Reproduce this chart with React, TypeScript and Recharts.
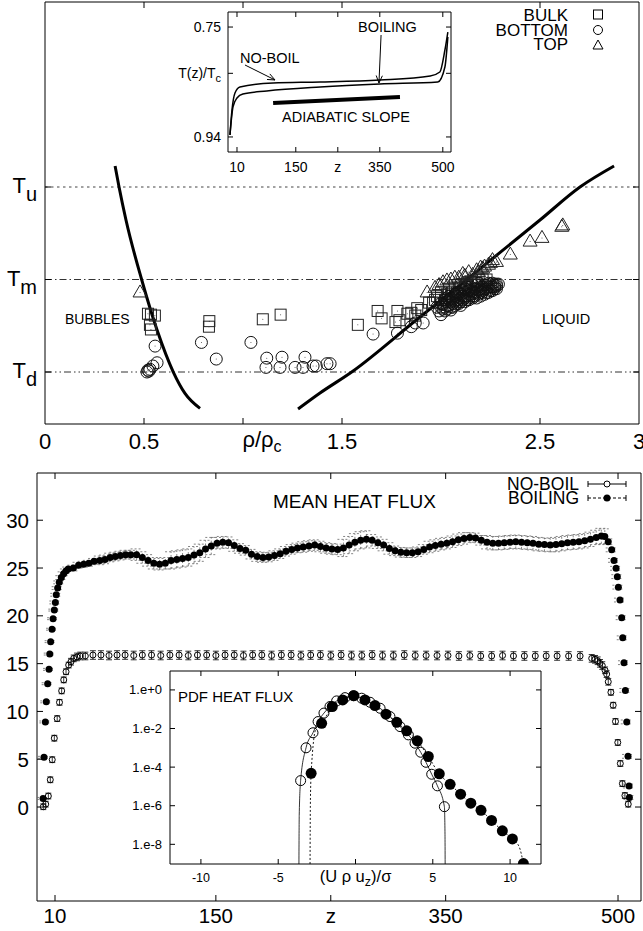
import React from 'react';
import { ComposedChart, Scatter, Line, XAxis, YAxis, ReferenceLine, ReferenceArea, ErrorBar } from 'recharts';

const FONT = '"Liberation Sans", Arial, Helvetica, sans-serif';

// ================= TOP PANEL: phase diagram =================
const rhoTicks = [0, 0.5, 1, 1.5, 2.5, 3];
const rhoTickLabels = ['0', '0.5', 'ρ/ρc', '1.5', '2.5', '3'];
const tempTicks = [0, 1, 2];
const tempTickLabels = ['Td', 'Tm', 'Tu'];

const gasBranch = [
  [0.354, 2.227], [0.374, 2.0], [0.409, 1.643], [0.488, 1.0], [0.566, 0.454],
  [0.648, 0.0], [0.707, -0.231], [0.783, -0.393],
];
const liquidBranch = [
  [1.278, -0.4], [1.389, -0.227], [1.549, 0.0], [1.875, 0.562], [2.13, 1.0],
  [2.5, 1.643], [2.702, 2.0], [2.874, 2.227],
];

const bulkPts = [
  [0.52, 0.63], [0.535, 0.62], [0.555, 0.61], [0.53, 0.51], [0.535, 0.46],
  [0.83, 0.55], [0.828, 0.49], [1.1, 0.57], [1.19, 0.62],
  [1.58, 0.51], [1.68, 0.66], [1.7, 0.58], [1.77, 0.54], [1.78, 0.66], [1.79, 0.56],
  [1.83, 0.63], [1.85, 0.64], [1.87, 0.61], [1.88, 0.69], [1.9, 0.67], [1.94, 0.75],
  [1.96, 0.75], [1.97, 0.78], [2.02, 0.78], [2.05, 0.82], [2.06, 0.76], [2.08, 0.86],
  [2.11, 0.88], [2.12, 0.82], [2.14, 0.9], [2.18, 0.96], [2.21, 1.0], [2.23, 1.0],
  [2.0, 0.8], [2.03, 0.84], [2.06, 0.86], [2.09, 0.9], [2.1, 0.94], [2.13, 0.96], [2.15, 0.98],
  [2.17, 0.94], [2.19, 1.0], [2.04, 0.9], [2.07, 0.94], [2.0, 0.86], [1.98, 0.82], [2.12, 0.92],
];
const bottomPts = [
  [0.556, 0.28], [0.566, 0.1], [0.545, 0.065], [0.52, 0.02], [0.515, 0.0], [0.525, 0.01], [0.53, 0.03],
  [0.79, 0.32], [0.865, 0.14], [1.04, 0.32], [1.12, 0.15], [1.116, 0.05], [1.197, 0.16], [1.187, 0.05],
  [1.263, 0.05], [1.313, 0.16], [1.303, 0.05], [1.354, 0.065], [1.37, 0.065], [1.424, 0.09], [1.44, 0.09],
  [1.657, 0.41], [1.78, 0.42], [1.85, 0.49], [1.87, 0.53], [1.91, 0.53], [2.0, 0.62], [2.05, 0.67],
  [1.98, 0.7], [2.0, 0.74], [2.01, 0.68], [2.02, 0.78], [2.03, 0.72], [2.04, 0.82], [2.05, 0.76],
  [2.06, 0.7], [2.07, 0.8], [2.08, 0.86], [2.08, 0.74], [2.09, 0.78], [2.1, 0.84], [2.1, 0.72],
  [2.11, 0.88], [2.12, 0.8], [2.12, 0.76], [2.13, 0.92], [2.14, 0.84], [2.14, 0.78], [2.15, 0.88],
  [2.16, 0.82], [2.16, 0.94], [2.17, 0.86], [2.18, 0.9], [2.18, 0.8], [2.19, 0.96], [2.2, 0.86],
  [2.2, 0.92], [2.21, 0.88], [2.22, 0.94], [2.22, 0.84], [2.23, 0.9], [2.24, 0.96], [2.24, 0.86],
  [2.25, 0.92], [2.26, 0.88], [2.27, 0.94], [2.28, 0.9], [2.27, 0.92], [2.28, 0.95],
  [1.99, 0.66], [2.0, 0.7], [2.01, 0.73], [2.02, 0.66], [2.02, 0.7], [2.03, 0.76], [2.03, 0.68],
  [2.04, 0.72], [2.04, 0.78], [2.05, 0.7], [2.05, 0.8], [2.06, 0.74], [2.06, 0.78], [2.07, 0.72],
  [2.07, 0.84], [2.08, 0.78], [2.08, 0.82], [2.09, 0.74], [2.09, 0.86], [2.1, 0.8], [2.1, 0.76],
  [2.11, 0.82], [2.11, 0.78], [2.12, 0.86], [2.12, 0.9], [2.13, 0.82], [2.13, 0.78], [2.14, 0.88],
  [2.14, 0.8], [2.15, 0.84], [2.15, 0.92], [2.16, 0.86], [2.16, 0.8], [2.17, 0.9], [2.17, 0.82],
  [2.18, 0.86], [2.18, 0.94], [2.19, 0.88], [2.19, 0.84], [2.2, 0.9], [2.2, 0.82], [2.21, 0.92],
  [2.21, 0.86], [2.22, 0.9], [2.23, 0.94], [2.23, 0.86], [2.24, 0.92], [2.25, 0.88], [2.25, 0.95],
  [2.26, 0.92], [2.26, 0.96], [2.27, 0.9], [2.28, 0.93], [2.29, 0.95],
];
const topPts = [
  [0.48, 0.86], [1.93, 0.86], [1.97, 0.91], [2.01, 0.97], [2.05, 1.0], [2.09, 1.02], [2.12, 1.04],
  [2.16, 1.05], [2.19, 1.08], [2.21, 1.12], [2.25, 1.18], [2.26, 1.21], [2.28, 1.19], [2.35, 1.27],
  [2.45, 1.41], [2.51, 1.45], [2.61, 1.57], [2.615, 1.585],
  [1.99, 0.94], [2.03, 0.99], [2.07, 1.02], [2.11, 1.06], [2.14, 1.08], [2.18, 1.1], [2.22, 1.14],
  [2.24, 1.16], [2.2, 1.13],
];

// inset: temperature profiles T(z)/Tc
const profileTicks = [10, 150, 250, 350, 500];
const profileTickLabels = ['10', '150', 'z', '350', '500'];
const tempInsetTicks = [0.75, 0.83, 0.94];
const tempInsetLabels = ['0.75', 'T(z)/Tc', '0.94'];
const noBoilProfile = [
  [-6.7, 0.9365], [-1.9, 0.8933], [5.2, 0.864], [17, 0.8536], [96, 0.8467], [208, 0.845],
  [350, 0.8415], [470, 0.8346], [493, 0.8277], [505, 0.7897], [512, 0.7586],
];
const boilProfile = [
  [-6.7, 0.9365], [0.5, 0.888], [10, 0.8726], [24, 0.8657], [81, 0.8605], [208, 0.8536],
  [350, 0.8484], [488, 0.845], [505, 0.819], [512, 0.767],
];
const adiabaticSlope = [[96, 0.8813], [398, 0.8709]];

// ================= BOTTOM PANEL: mean heat flux =================
const zTicks = [10, 150, 250, 350, 500];
const zTickLabels = ['10', '150', 'z', '350', '500'];
const fluxTicks = [0, 5, 10, 15, 20, 25, 30];

// [z, flux, error]
const noBoilFlux = [
  [-0.2, 0.03, 0.3], [1.9, 0.3, 0.3], [4.2, 1.15, 0.3], [5.9, 2.85, 0.3], [7.6, 4.95, 0.3], [9.4, 7.2, 0.3],
  [11.9, 9.25, 0.3], [13.9, 10.95, 0.3], [15.8, 12.15, 0.3], [17.6, 13.3, 0.3], [19.6, 14.15, 0.3],
  [21.9, 14.85, 0.3], [23.9, 15.2, 0.35], [26.3, 15.55, 0.35], [29.1, 15.7, 0.4], [32, 15.8, 0.4], [36.4, 15.8, 0.4],
  [43, 15.9, 0.45], [50, 15.9, 0.45], [57, 15.85, 0.45], [64, 15.9, 0.45], [71, 15.9, 0.45], [78.5, 15.85, 0.45],
  [86, 15.9, 0.45], [94, 15.9, 0.45], [102, 15.85, 0.45], [110, 15.9, 0.45], [118, 15.9, 0.45], [126, 15.85, 0.45],
  [134, 15.9, 0.45], [142, 15.9, 0.45], [150, 15.85, 0.45], [158, 15.9, 0.45], [166, 15.9, 0.45], [174, 15.85, 0.45],
  [182, 15.9, 0.45], [190, 15.9, 0.45], [198.5, 15.85, 0.45], [207, 15.9, 0.45], [215.5, 15.9, 0.45], [224, 15.85, 0.45],
  [232.5, 15.9, 0.45], [241, 15.9, 0.45], [250, 15.85, 0.45], [259, 15.9, 0.45], [268, 15.85, 0.45], [277, 15.85, 0.45],
  [286, 15.9, 0.45], [295, 15.85, 0.45], [304.5, 15.85, 0.45], [314, 15.9, 0.45], [323.5, 15.85, 0.45], [333, 15.85, 0.45],
  [342.5, 15.85, 0.45], [352, 15.85, 0.45], [361.5, 15.8, 0.45], [371, 15.85, 0.45], [380.5, 15.8, 0.45], [390, 15.8, 0.45],
  [399.5, 15.85, 0.45], [409, 15.8, 0.45], [418.5, 15.8, 0.45], [428, 15.8, 0.45], [437.5, 15.8, 0.45], [447, 15.8, 0.45],
  [457, 15.8, 0.45], [467, 15.8, 0.45], [477.1, 15.55, 0.4], [480, 15.45, 0.4], [482.3, 15.3, 0.4], [484.3, 15.03, 0.4],
  [486.3, 14.8, 0.4], [488.7, 14.3, 0.35], [490.1, 13.9, 0.35], [491.5, 13.1, 0.35], [493.8, 12.0, 0.3], [495.8, 10.65, 0.3],
  [497.8, 8.95, 0.3], [499.8, 6.75, 0.3], [502, 4.55, 0.3], [503.8, 2.45, 0.3], [506, 1.2, 0.3], [508.9, 0.3, 0.3],
];

const boilFlux = [
  [-0.4, 0.9, 0.1], [0.4, 5.2, 0.1], [1.6, 8.9, 0.1], [2.4, 11.0, 0.1], [3.6, 12.9, 0.1], [4.8, 14.4, 0.1],
  [5.4, 16.0, 0.1], [6.2, 17.3, 0.1], [7.4, 18.6, 0.1], [8.3, 19.7, 0.1], [9.4, 20.6, 0.1], [10.3, 21.4, 0.15],
  [11.1, 22.2, 0.15], [12.3, 22.9, 0.15], [13.7, 23.5, 0.15], [15.5, 24.0, 0.2], [17.5, 24.4, 0.2], [19.5, 24.7, 0.2],
  [21.5, 24.9, 0.2], [26, 25.0, 0.3], [30.5, 25.3, 0.3], [35, 25.4, 0.3], [39.5, 25.5, 0.3], [44, 25.7, 0.3],
  [49, 25.8, 0.45], [53.5, 25.9, 0.45], [58, 26.1, 0.45], [62.5, 26.2, 0.45], [67, 26.3, 0.45], [71.5, 26.4, 0.45],
  [76, 26.4, 0.45], [81, 26.4, 0.6], [86, 26.1, 0.6], [91, 25.8, 0.6], [96, 25.5, 0.6], [101, 25.4, 0.6],
  [106, 25.5, 0.6], [111, 25.8, 0.9], [116, 25.9, 0.9], [121, 26.0, 0.9], [126, 26.1, 0.9], [131, 26.35, 0.9],
  [136, 26.6, 0.9], [141, 27.0, 0.9], [146, 27.3, 0.9], [151, 27.6, 0.6], [156, 27.7, 0.6], [161, 27.65, 0.6],
  [166, 27.35, 0.6], [171, 27.05, 0.5], [176, 26.85, 0.5], [181, 26.45, 0.5], [186, 26.2, 0.5], [191, 26.1, 0.5],
  [196, 26.15, 0.5], [201, 26.3, 0.5], [206, 26.5, 0.5], [211, 26.75, 0.5], [216, 26.95, 0.5], [221, 27.1, 0.5],
  [226, 27.2, 0.55], [231, 27.3, 0.55], [236, 27.4, 0.55], [241, 27.25, 0.55], [246, 27.1, 0.55], [251, 27.0, 0.55],
  [256, 26.95, 0.55], [261, 27.1, 0.9], [266, 27.4, 0.9], [271, 27.7, 0.9], [276, 27.9, 0.9], [281, 28.0, 0.9],
  [286, 27.9, 0.6], [291, 27.65, 0.6], [296, 27.4, 0.6], [301, 27.05, 0.6], [306, 26.8, 0.5], [311, 26.65, 0.5],
  [316, 26.6, 0.5], [321, 26.6, 0.5], [326, 26.7, 0.5], [331, 26.95, 0.5], [336, 27.2, 0.6], [341, 27.35, 0.6],
  [346, 27.5, 0.6], [351, 27.6, 0.6], [356, 27.75, 0.6], [361, 27.95, 0.6], [366, 28.1, 0.6], [371, 28.2, 0.5],
  [376, 28.15, 0.5], [381, 27.9, 0.5], [386, 27.7, 0.7], [391, 27.6, 0.7], [396, 27.6, 0.7], [401, 27.65, 0.7],
  [406, 27.7, 0.7], [411, 27.75, 0.7], [416, 27.7, 0.7], [421, 27.65, 0.7], [426, 27.6, 0.7], [431, 27.5, 0.7],
  [436, 27.45, 0.7], [441, 27.4, 0.7], [446, 27.45, 0.75], [451, 27.55, 0.75], [456, 27.65, 0.75], [461, 27.7, 0.75],
  [466, 27.75, 0.75], [471, 27.85, 0.75], [476, 28.0, 0.75], [481, 28.2, 0.75], [485.5, 28.35, 0.8], [488.5, 28.3, 0.8],
  [491.5, 27.75, 0.3], [494.5, 26.9, 0.2], [496.5, 25.8, 0.2], [498.3, 24.97, 0.2], [499.4, 24.1, 0.2], [500.3, 23.0, 0.2],
  [501.7, 21.65, 0.2], [503.2, 19.8, 0.2], [504.1, 17.7, 0.2], [505.2, 15.1, 0.2], [506.4, 12.2, 0.2], [507.6, 8.9, 0.2],
  [508.7, 5.3, 0.2], [509.6, 2.2, 0.2], [509.9, 1.0, 0.2],
];

// inset: PDF of heat flux (log10 of probability)
const pdfXTicks = [-10, -5, 0, 5, 10];
const pdfXLabels = ['-10', '-5', '(U ρ uz)/σ', '5', '10'];
const pdfYTicks = [0, -2, -4, -6, -8];
const pdfYLabels = ['1.e+0', '1.e-2', '1.e-4', '1.e-6', '1.e-8'];
const pdfNoBoil = [
  [-3.55, -4.7], [-3.2, -3.0], [-2.75, -2.22], [-2.42, -1.64], [-2.04, -1.2], [-1.65, -0.86], [-1.22, -0.57],
  [-0.68, -0.4], [-0.14, -0.3], [0.4, -0.43], [0.94, -0.64], [1.59, -0.95], [2.23, -1.38], [2.88, -1.9],
  [3.42, -2.33], [3.85, -2.76], [4.22, -3.23], [4.56, -3.75], [4.93, -4.37], [5.3, -4.97], [5.75, -6.05],
];
const pdfBoil = [
  [-2.87, -4.32], [-2.19, -1.73], [-1.5, -0.86], [-0.83, -0.52], [-0.1, -0.3], [0.61, -0.52], [1.26, -0.81],
  [1.97, -1.26], [2.67, -1.68], [3.31, -2.12], [4.0, -2.64], [4.71, -3.45], [5.42, -4.35], [6.12, -4.89],
  [6.8, -5.4], [7.46, -5.87], [8.12, -6.24], [8.8, -6.76], [9.5, -7.3], [10.15, -7.72], [10.86, -9.0],
];
const pdfNoBoilFit = [
  [-3.66, -9.02], [-3.64, -6.5], [-3.55, -4.7], [-3.2, -3.0], [-2.75, -2.22], [-2.42, -1.64], [-2.04, -1.2],
  [-1.65, -0.86], [-1.22, -0.57], [-0.68, -0.4], [-0.14, -0.3], [0.4, -0.43], [0.94, -0.64], [1.59, -0.95],
  [2.23, -1.38], [2.88, -1.9], [3.42, -2.33], [3.85, -2.76], [4.22, -3.23], [4.56, -3.75], [4.93, -4.37],
  [5.3, -4.97], [5.75, -6.05], [5.79, -7.5], [5.8, -9.02],
];
const pdfBoilFit = [
  [-2.94, -9.02], [-2.92, -6.0], [-2.87, -4.32], [-2.55, -1.98], [-2.19, -1.73], [-1.5, -0.86], [-0.83, -0.52],
  [-0.1, -0.3], [0.61, -0.52], [1.26, -0.81], [1.97, -1.26], [2.67, -1.68], [3.31, -2.12], [4.0, -2.64],
  [4.71, -3.45], [5.42, -4.35], [6.12, -4.89], [6.8, -5.4], [7.46, -5.87], [8.12, -6.24], [8.8, -6.76],
  [9.5, -7.3], [10.15, -7.72], [10.6, -8.15], [10.86, -9.0],
];

// ---------- helpers ----------
const xy = (a: number[][]) => a.map(([x, y]) => ({ x, y }));
const xye = (a: number[][]) => a.map(([x, y, e]) => ({ x, y, e }));
const zt = (a: number[][]) => a.map(([z, t]) => ({ z, t }));

const txt = { fontFamily: FONT, fill: '#000' } as const;

const SubLabel = ({ x, y, label, size, subSize, subDy, anchor }: any) => (
  <text x={x} y={y} textAnchor={anchor} fontSize={size} {...txt}>
    {label.slice(0, -1)}
    <tspan fontSize={subSize} dy={subDy}>{label.slice(-1)}</tspan>
  </text>
);

// ---------- top main ticks ----------
const T_PL = 45, T_PR = 639, T_PT = 2, T_PB = 424;
const TopXTick = (p: any) => {
  const v = p.payload.value;
  const i = rhoTicks.indexOf(v);
  const x = p.x;
  const inner = v > 0 && v < 3;
  const lab = rhoTickLabels[i];
  return (
    <g>
      {inner && <line x1={x} x2={x} y1={T_PB} y2={T_PB - 6} stroke="#000" />}
      {inner && <line x1={x} x2={x} y1={T_PT} y2={T_PT + 6} stroke="#000" />}
      {lab.length > 3 ? (
        <SubLabel x={x + 19} y={447} label={lab} size={22} subSize={16} subDy={5} anchor="middle" />
      ) : (
        <text x={x} y={449} textAnchor="middle" fontSize={22} {...txt}>{lab}</text>
      )}
    </g>
  );
};
const TopYTick = (p: any) => {
  const v = p.payload.value;
  const y = p.y;
  const lab = tempTickLabels[tempTicks.indexOf(v)];
  return (
    <g>
      <line x1={T_PL} x2={T_PL + 6} y1={y} y2={y} stroke="#000" />
      <line x1={T_PR} x2={T_PR - 6} y1={y} y2={y} stroke="#000" />
      <SubLabel x={37} y={y + 6} label={lab} size={22} subSize={20} subDy={8} anchor="end" />
    </g>
  );
};

// ---------- inset (profile) ticks, local coords ----------
const I_PL = 60, I_PR = 283, I_PT = 12, I_PB = 152;
const InsetXTick = (p: any) => {
  const v = p.payload.value;
  const x = p.x;
  return (
    <g>
      <line x1={x} x2={x} y1={I_PB} y2={I_PB - 5} stroke="#000" />
      <line x1={x} x2={x} y1={I_PT} y2={I_PT + 5} stroke="#000" />
      <text x={x} y={172} textAnchor="middle" fontSize={14} {...txt}>{profileTickLabels[profileTicks.indexOf(v)]}</text>
    </g>
  );
};
const InsetYTick = (p: any) => {
  const v = p.payload.value;
  const y = p.y;
  const lab = tempInsetLabels[tempInsetTicks.indexOf(v)];
  return (
    <g>
      <line x1={I_PL} x2={I_PL + 5} y1={y} y2={y} stroke="#000" />
      <line x1={I_PR} x2={I_PR - 5} y1={y} y2={y} stroke="#000" />
      {lab.length > 4 ? (
        <SubLabel x={53} y={y + 5} label={lab} size={14} subSize={11} subDy={4} anchor="end" />
      ) : (
        <text x={53} y={y + 5} textAnchor="end" fontSize={14} {...txt}>{lab}</text>
      )}
    </g>
  );
};

// ---------- bottom main ticks, local coords ----------
const B_PL = 37, B_PR = 641, B_PT = 18, B_PB = 446;
const BotXTick = (p: any) => {
  const v = p.payload.value;
  const x = p.x;
  return (
    <g>
      <line x1={x} x2={x} y1={B_PB} y2={B_PB - 6} stroke="#000" />
      <line x1={x} x2={x} y1={B_PT} y2={B_PT + 6} stroke="#000" />
      <text x={x} y={468} textAnchor="middle" fontSize={20.5} {...txt}>{zTickLabels[zTicks.indexOf(v)]}</text>
    </g>
  );
};
const BotYTick = (p: any) => {
  const v = p.payload.value;
  const y = p.y;
  return (
    <g>
      <line x1={B_PL} x2={B_PL + 6} y1={y} y2={y} stroke="#000" />
      <line x1={B_PR} x2={B_PR - 6} y1={y} y2={y} stroke="#000" />
      <text x={29} y={y + 7.5} textAnchor="end" fontSize={20.5} {...txt}>{String(v)}</text>
    </g>
  );
};

// ---------- PDF inset ticks, local coords ----------
const P_PL = 50, P_PR = 421, P_PT = 5, P_PB = 198;
const PdfXTick = (p: any) => {
  const v = p.payload.value;
  const x = p.x;
  const lab = pdfXLabels[pdfXTicks.indexOf(v)];
  return (
    <g>
      <line x1={x} x2={x} y1={P_PB} y2={P_PB - 5} stroke="#000" />
      <line x1={x} x2={x} y1={P_PT} y2={P_PT + 5} stroke="#000" />
      {lab.length > 3 ? (
        <text x={x} y={216} textAnchor="middle" fontSize={16.5} {...txt}>
          (U ρ u<tspan fontSize={12.5} dy={4}>z</tspan><tspan dy={-4}>)/σ</tspan>
        </text>
      ) : (
        <text x={x} y={215.5} textAnchor="middle" fontSize={12.5} {...txt}>{lab}</text>
      )}
    </g>
  );
};
const PdfYTick = (p: any) => {
  const v = p.payload.value;
  const y = p.y;
  return (
    <g>
      <line x1={P_PL} x2={P_PL + 5} y1={y} y2={y} stroke="#000" />
      <line x1={P_PR} x2={P_PR - 5} y1={y} y2={y} stroke="#000" />
      <text x={42} y={y + 4.5} textAnchor="end" fontSize={13} {...txt}>{pdfYLabels[pdfYTicks.indexOf(v)]}</text>
    </g>
  );
};

// ---------- marker shapes ----------
const SquareMk = (p: any) => (
  <g>
    <rect x={p.cx - 5.5} y={p.cy - 5.5} width={11} height={11} fill="none" stroke="#222" strokeWidth={1} />
    <circle cx={p.cx} cy={p.cy} r={0.5} fill="#444" />
  </g>
);
const CircleMk = (p: any) => (
  <g>
    <circle cx={p.cx} cy={p.cy} r={6} fill="none" stroke="#111" strokeWidth={1} />
    <circle cx={p.cx} cy={p.cy} r={0.5} fill="#444" />
  </g>
);
const TriMk = (p: any) => (
  <g>
    <polygon points={`${p.cx},${p.cy - 7.5} ${p.cx - 7},${p.cy + 4.5} ${p.cx + 7},${p.cy + 4.5}`} fill="none" stroke="#222" strokeWidth={1} />
    <circle cx={p.cx} cy={p.cy} r={0.5} fill="#444" />
  </g>
);
const OpenSmall = (p: any) => <circle cx={p.cx} cy={p.cy} r={3} fill="none" stroke="#000" strokeWidth={1} />;
const FilledSmall = (p: any) => <circle cx={p.cx} cy={p.cy} r={3.5} fill="#000" />;
const OpenPdf = (p: any) => <circle cx={p.cx} cy={p.cy} r={5} fill="none" stroke="#000" strokeWidth={1} />;
const FilledPdf = (p: any) => <circle cx={p.cx} cy={p.cy} r={5.5} fill="#000" />;

const arrowShape = (p: any) => {
  const { x1, y1, x2, y2 } = p;
  const a = Math.atan2(y2 - y1, x2 - x1);
  const L = 8, w = 0.4;
  const h1 = `${x2 - L * Math.cos(a - w)},${y2 - L * Math.sin(a - w)}`;
  const h2 = `${x2 - L * Math.cos(a + w)},${y2 - L * Math.sin(a + w)}`;
  return (
    <g>
      <line x1={x1} y1={y1} x2={x2} y2={y2} stroke="#000" strokeWidth={1} />
      <polyline points={`${h1} ${x2},${y2} ${h2}`} fill="none" stroke="#000" strokeWidth={1} />
    </g>
  );
};

export default function App() {
  return (
    <div style={{ position: 'absolute', left: 0, top: 0, width: 643, height: 931, background: '#fff', fontFamily: FONT }}>
      {/* TOP MAIN */}
      <div style={{ position: 'absolute', left: 0, top: 0 }}>
        <ComposedChart width={643} height={460} margin={{ top: T_PT, right: 643 - T_PR, left: 0, bottom: 0 }}>
          <XAxis type="number" dataKey="x" domain={[0, 3]} ticks={rhoTicks} interval={0} height={36}
            tick={TopXTick} tickLine={false} axisLine={false} allowDataOverflow />
          <YAxis type="number" dataKey="y" domain={[-0.562, 4.0]} ticks={tempTicks} interval={0} width={T_PL}
            tick={TopYTick} tickLine={false} axisLine={false} allowDataOverflow />
          <ReferenceArea x1={0} x2={3} y1={-0.562} y2={4.0} fill="none" fillOpacity={0} stroke="#000" strokeWidth={1} ifOverflow="visible" />
          <ReferenceLine y={2} stroke="#444" strokeDasharray="2.5 3.5" strokeWidth={1} />
          <ReferenceLine y={1} stroke="#333" strokeDasharray="7 3 1.5 3" strokeWidth={1} />
          <ReferenceLine y={0} stroke="#333" strokeDasharray="7 3 1.5 3 1.5 3" strokeWidth={1} />
          <Line data={xy(gasBranch)} dataKey="y" type="monotone" stroke="#000" strokeWidth={3} dot={false} isAnimationActive={false} />
          <Line data={xy(liquidBranch)} dataKey="y" type="monotone" stroke="#000" strokeWidth={3} dot={false} isAnimationActive={false} />
          <Scatter data={xy(bulkPts)} shape={SquareMk} isAnimationActive={false} />
          <Scatter data={xy(bottomPts)} shape={CircleMk} isAnimationActive={false} />
          <Scatter data={xy(topPts)} shape={TriMk} isAnimationActive={false} />
        </ComposedChart>
      </div>

      {/* TOP INSET */}
      <div style={{ position: 'absolute', left: 168, top: 0 }}>
        <ComposedChart width={288} height={174} margin={{ top: I_PT, right: 5, left: 0, bottom: 0 }}>
          <XAxis type="number" dataKey="z" domain={[-11.4, 519.5]} ticks={profileTicks} interval={0} height={22}
            tick={InsetXTick} tickLine={false} axisLine={false} allowDataOverflow />
          <YAxis type="number" dataKey="t" domain={[0.724, 0.966]} reversed ticks={tempInsetTicks} interval={0} width={I_PL}
            tick={InsetYTick} tickLine={false} axisLine={false} allowDataOverflow />
          <ReferenceArea x1={-11.4} x2={519.5} y1={0.724} y2={0.966} fill="none" fillOpacity={0} stroke="#000" strokeWidth={1} ifOverflow="visible" />
          <Line data={zt(noBoilProfile)} dataKey="t" type="monotone" stroke="#000" strokeWidth={1.5} dot={false} isAnimationActive={false} />
          <Line data={zt(boilProfile)} dataKey="t" type="monotone" stroke="#000" strokeWidth={1.5} dot={false} isAnimationActive={false} />
          <Line data={zt(adiabaticSlope)} dataKey="t" type="linear" stroke="#000" strokeWidth={4} dot={false} isAnimationActive={false} />
          <ReferenceLine segment={[{ x: 29, y: 0.8156 }, { x: 100.5, y: 0.8415 }]} shape={arrowShape} ifOverflow="visible" />
          <ReferenceLine segment={[{ x: 353, y: 0.7638 }, { x: 348, y: 0.8467 }]} shape={arrowShape} ifOverflow="visible" />
        </ComposedChart>
      </div>

      {/* BOTTOM MAIN */}
      <div style={{ position: 'absolute', left: 0, top: 455 }}>
        <ComposedChart width={643} height={476} margin={{ top: B_PT, right: 643 - B_PR, left: 0, bottom: 0 }}>
          <XAxis type="number" dataKey="x" domain={[-5.67, 520]} ticks={zTicks} interval={0} height={476 - B_PB}
            tick={BotXTick} tickLine={false} axisLine={false} allowDataOverflow />
          <YAxis type="number" dataKey="y" domain={[-9.83, 34.94]} ticks={fluxTicks} interval={0} width={B_PL}
            tick={BotYTick} tickLine={false} axisLine={false} allowDataOverflow />
          <ReferenceArea x1={-5.67} x2={520} y1={-9.83} y2={34.94} fill="none" fillOpacity={0} stroke="#000" strokeWidth={1} ifOverflow="visible" />
          <Scatter data={xye(noBoilFlux)} shape={OpenSmall} isAnimationActive={false}>
            <ErrorBar dataKey="e" direction="y" width={3} stroke="#000" strokeWidth={0.8} />
          </Scatter>
          <Scatter data={xye(boilFlux)} shape={FilledSmall} isAnimationActive={false}>
            <ErrorBar dataKey="e" direction="y" width={6} stroke="#666" strokeWidth={0.8} strokeDasharray="2 2" />
          </Scatter>
        </ComposedChart>
      </div>

      {/* PDF INSET */}
      <div style={{ position: 'absolute', left: 120, top: 666 }}>
        <ComposedChart width={426} height={223} margin={{ top: P_PT, right: 5, left: 0, bottom: 0 }}>
          <XAxis type="number" dataKey="x" domain={[-12, 12]} ticks={pdfXTicks} interval={0} height={223 - P_PB}
            tick={PdfXTick} tickLine={false} axisLine={false} allowDataOverflow />
          <YAxis type="number" dataKey="y" domain={[-9.02, 0.98]} ticks={pdfYTicks} interval={0} width={P_PL}
            tick={PdfYTick} tickLine={false} axisLine={false} allowDataOverflow />
          <ReferenceArea x1={-12} x2={12} y1={-9.02} y2={0.98} fill="none" fillOpacity={0} stroke="#000" strokeWidth={1} ifOverflow="visible" />
          <Line data={xy(pdfNoBoilFit)} dataKey="y" type="monotone" stroke="#000" strokeWidth={0.8} dot={false} isAnimationActive={false} />
          <Line data={xy(pdfBoilFit)} dataKey="y" type="monotone" stroke="#000" strokeWidth={0.9} strokeDasharray="2 2" dot={false} isAnimationActive={false} />
          <Scatter data={xy(pdfNoBoil)} shape={OpenPdf} isAnimationActive={false} />
          <Scatter data={xy(pdfBoil)} shape={FilledPdf} isAnimationActive={false} />
        </ComposedChart>
      </div>

      {/* ANNOTATIONS */}
      <svg width={643} height={931} style={{ position: 'absolute', left: 0, top: 0, pointerEvents: 'none' }}>
        <g fontFamily={FONT} fill="#000">
          <text x={568} y={21} textAnchor="end" fontSize={17}>BULK</text>
          <text x={568} y={35.5} textAnchor="end" fontSize={17}>BOTTOM</text>
          <text x={568} y={49.5} textAnchor="end" fontSize={17}>TOP</text>
          <text x={65} y={324} fontSize={14}>BUBBLES</text>
          <text x={542} y={324} fontSize={14.5}>LIQUID</text>
          <text x={240} y={63} fontSize={14.5}>NO-BOIL</text>
          <text x={358} y={32} fontSize={14.5}>BOILING</text>
          <text x={282} y={122} fontSize={14.5}>ADIABATIC SLOPE</text>
          <text x={273} y={508} fontSize={19}>MEAN HEAT FLUX</text>
          <text x={579} y={490} textAnchor="end" fontSize={17.5}>NO-BOIL</text>
          <text x={579} y={504} textAnchor="end" fontSize={17.5}>BOILING</text>
          <text x={178} y={702} fontSize={15}>PDF HEAT FLUX</text>
        </g>
        <rect x={593.5} y={10} width={9} height={9} fill="none" stroke="#000" />
        <circle cx={598} cy={30} r={4.5} fill="none" stroke="#000" />
        <polygon points="598,40 593,49 603,49" fill="none" stroke="#000" />
        <line x1={588} x2={626} y1={484} y2={484} stroke="#000" />
        <line x1={588} x2={588} y1={481} y2={487} stroke="#000" />
        <line x1={626} x2={626} y1={481} y2={487} stroke="#000" />
        <circle cx={607} cy={484} r={3} fill="#fff" stroke="#000" />
        <line x1={588} x2={626} y1={498} y2={498} stroke="#000" strokeDasharray="3 2" />
        <line x1={588} x2={588} y1={495} y2={501} stroke="#000" />
        <line x1={626} x2={626} y1={495} y2={501} stroke="#000" />
        <circle cx={607} cy={498} r={3.5} fill="#000" />
      </svg>
    </div>
  );
}
